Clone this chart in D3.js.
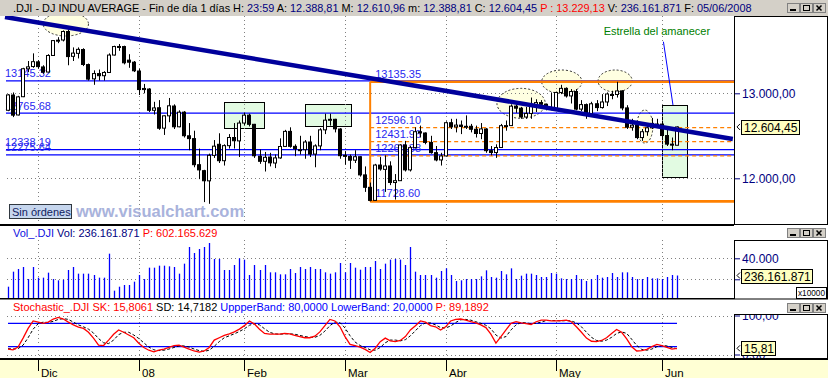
<!DOCTYPE html>
<html><head><meta charset="utf-8">
<script src="https://cdn.jsdelivr.net/npm/d3@7/dist/d3.min.js"></script>
<style>
html,body{margin:0;padding:0;background:#fff;}
svg{display:block;font-family:Arial,"Liberation Sans",sans-serif;}
</style></head><body>
<svg id="chart" width="828" height="378"></svg>
<script>
// ---------------- DATA ----------------
const sessionDays = [
 ["2007-11",[23,26,27,28,29,30]],
 ["2007-12",[3,4,5,6,7,10,11,12,13,14,17,18,19,20,21,24,26,27,28,31]],
 ["2008-01",[2,3,4,7,8,9,10,11,14,15,16,17,18,22,23,24,25,28,29,30,31]],
 ["2008-02",[1,4,5,6,7,8,11,12,13,14,15,19,20,21,22,25,26,27,28,29]],
 ["2008-03",[3,4,5,6,7,10,11,12,13,14,17,18,19,20,24,25,26,27,28,31]],
 ["2008-04",[1,2,3,4,7,8,9,10,11,14,15,16,17,18,21,22,23,24,25,28,29,30]],
 ["2008-05",[1,2,5,6,7,8,9,12,13,14,15,16,19,20,21,22,23,27,28,29,30]],
 ["2008-06",[2,3,4,5]]
];
const dates = sessionDays.flatMap(([m, ds]) => ds.map(d => m + "-" + String(d).padStart(2, "0")));

const opens = [
 12800,12980,12745,12960,13288,13315,
 13370,13310,13250,13445,13620,13627,13727,13435,13470,13515,13338,13170,13232,13207,13245,13450,13550,13550,13390,13366,
 13262,13044,13050,12800,12830,12590,12735,12850,12606,12778,12500,12467,12160,12090,11970,12270,12400,12207,12384,12480,12440,
 12650,12743,12635,12260,12200,12250,12180,12240,12375,12552,12376,12330,12337,12427,12285,12381,12570,12684,12694,12580,
 12270,12258,12213,12254,12040,11894,11740,12156,12105,12145,11950,11972,12392,12099,12361,12548,12533,12422,12302,12216,
 12263,12654,12605,12626,12610,12612,12577,12527,12580,12325,12303,12362,12619,12620,12849,12825,12721,12763,12849,12891,12871,12832,
 12820,13010,13058,12969,13021,12814,12867,12745,12877,12832,12898,12980,12986,13028,12828,12601,12625,12479,12548,12594,12630,
 12638,12503,12402,12388.81
];
const highs = [
 12990,13010,12970,13300,13380,13470,
 13390,13330,13460,13625,13660,13740,13750,13540,13540,13530,13350,13270,13280,13260,13470,13560,13580,13560,13460,13380,
 13290,13110,13060,12900,12920,12740,12945,12870,12800,12790,12650,12560,12350,12100,12290,12450,12530,12400,12520,12650,12680,
 12770,12760,12640,12340,12310,12300,12280,12470,12570,12600,12400,12500,12450,12500,12400,12590,12760,12760,12700,12590,
 12320,12280,12330,12260,12140,11950,12170,12250,12270,12200,12050,12400,12440,12380,12600,12620,12540,12500,12380,12300,
 12670,12700,12700,12680,12740,12640,12620,12650,12590,12380,12400,12640,12680,12870,12870,12840,12840,12950,12930,12920,12880,13010,
 13020,13100,13070,13050,13050,12920,12880,12900,12920,12990,13010,13030,13135.35,13035,12860,12700,12640,12580,12630,12710,12700,
 12650,12580,12480,12610.96
];
const lows = [
 12790,12720,12740,12955,13250,13300,
 13290,13230,13245,13440,13590,13610,13330,13380,13410,13320,13150,13100,13150,13150,13240,13445,13500,13340,13300,13250,
 12980,13000,12780,12750,12570,12510,12660,12580,12600,12480,12330,12130,11990,11720,11700,12240,12180,12150,12350,12350,12250,
 12620,12610,12240,12170,12080,12140,12120,12230,12370,12360,12260,12280,12230,12250,12130,12330,12520,12620,12540,12230,
 12160,12110,12180,12020,11840,11728.6,11735,12090,11840,11920,11750,11970,12080,12080,12350,12480,12400,12290,12200,12150,
 12260,12580,12540,12520,12580,12540,12480,12460,12300,12270,12240,12360,12560,12615,12770,12700,12700,12700,12780,12850,12800,12800,
 12800,12990,12950,12880,12800,12790,12700,12740,12790,12820,12850,12930,12950,12800,12580,12560,12460,12440,12500,12580,12610,
 12460,12380,12330,12388.81
];
const closes = [
 12981,12743,12958,13289,13311,13372,
 13314,13249,13445,13620,13625,13727,13432,13473,13517,13339,13167,13232,13207,13245,13450,13550,13551,13359,13366,13265,
 13044,13057,12800,12828,12589,12735,12853,12606,12778,12501,12467,12160,12099,11971,12270,12378,12207,12384,12480,12442,12650,
 12743,12635,12265,12200,12247,12182,12240,12374,12552,12376,12348,12337,12427,12285,12381,12570,12684,12694,12582,12266,
 12258,12213,12254,12040,11894,11740,12156,12110,12145,11951,11972,12392,12099,12361,12548,12533,12422,12302,12216,12263,
 12654,12605,12626,12610,12612,12577,12527,12581,12325,12303,12362,12619,12620,12849,12825,12721,12763,12849,12891,12871,12832,12820,
 13010,13058,12969,13021,12814,12867,12745,12877,12832,12898,12992,12986,13028,12828,12601,12625,12479,12548,12594,12646,12638,
 12503,12402,12391,12604.45
];
// volume in units of 10,000 shares (x10000)
const volumes = [
 12960,27270,29810,31720,20290,31720,
 21560,21560,26320,20290,19010,19650,28860,31720,25370,25370,25370,24100,21560,21560,44410,9170,12960,14570,14570,17750,
 24100,20290,31080,31080,32980,32980,32350,31720,25370,34890,50760,45050,48860,50760,54570,39330,39330,28860,28860,33620,39970,
 38700,24100,33620,28860,33620,26640,26640,24730,24730,29810,26000,31720,29810,31720,29810,29810,26640,25370,26640,35520,
 26640,35520,31080,29170,31720,31720,37430,29810,34890,38700,39330,38700,33620,50760,27270,24100,24100,24100,21560,27900,
 30450,24100,18380,19010,20290,20290,20290,22830,28540,22190,21560,27900,24730,30450,20290,23460,25370,25370,24100,22190,22190,26000,
 25370,20920,20290,20290,24100,20290,18380,20290,24100,21560,22190,26000,22190,26640,26640,22190,20290,20290,22190,20920,20920,
 20290,22190,24100,23616.1871
];
const stochK = [
 14,12,19,42,67,86,
 83,80,83,91,95,91,83,76,70,67,57,42,24,23,37,52,63,57,50,43,
 29,18,11,7,11,14,18,23,24,19,14,9,6,9,18,37,43,49,53,58,65,
 74,86,78,65,54,52,52,52,54,53,49,46,43,43,47,58,74,90,86,71,
 46,26,23,19,13,5,16,33,42,35,33,36,46,63,74,86,83,74,71,63,
 71,86,90,91,88,84,81,76,69,52,29,46,63,80,84,81,79,77,84,88,88,86,
 86,87,88,84,71,57,42,34,33,36,43,54,64,57,40,20,9,10,13,20,26,
 23,18,14,15.8061
];
const stochD = [
 15,14,15,24,43,65,
 79,83,82,85,90,92,90,83,76,71,65,55,41,30,28,37,51,57,57,50,
 41,30,19,12,10,11,14,18,22,22,19,14,10,8,11,21,33,43,48,53,59,
 66,75,79,76,66,57,53,52,53,53,52,49,46,44,44,49,60,74,83,82,
 68,48,32,23,18,12,11,18,30,37,37,35,38,48,61,74,81,81,76,69,
 68,73,82,89,90,88,84,80,75,66,50,42,46,63,76,82,81,79,80,83,87,87,
 87,86,87,86,81,71,57,44,36,34,37,44,54,58,54,39,23,13,11,14,20,
 23,22,18,14.7182
];
const monthTicks = [["Dic","2007-12-03"],["08","2008-01-02"],["Feb","2008-02-01"],["Mar","2008-03-03"],["Abr","2008-04-01"],["May","2008-05-01"],["Jun","2008-06-02"]];
const priceTicks = [12000, 13000];
const volumeTicks = [20000, 40000];
const stochTicks = [0, 100];
const stochBands = [80, 20];
const supportLevels = [13145.32, 12765.68, 12338.19, 12275.64];
const swingHigh = 13135.35, swingLow = 11728.60, swingDate = "2008-03-10";
const fibLevels = [12596.10, 12431.96, 12264.88];
// trendline: [bar index, price]
const trendLine = [[-0.6, 13898], [144.1, 12463]];
// highlight ellipses: [centre bar index, centre price, x radius (bars), y radius (points)]
const ellipses = [[11.5, 13815, 4.5, 141], [102, 12882, 4.8, 176], [110.1, 13136, 4.0, 138], [120.7, 13145, 3.4, 129], [126.6, 12609, 1.6, 194]];
// pattern boxes: [from bar, to bar, top price, bottom price]
const boxes = [[42.94, 50.89, 12898, 12592], [59.05, 68.19, 12874, 12615], [130.0, 135.0, 12862, 12015]];
const callout = {text: "Estrella del amanecer", at: [129.0, 13690], line: [[130.3, 13607], [132.2, 12862]]};
const header = {symbol: ".DJI - DJ INDU AVERAGE - Fin de día 1 días", time: "23:59", prev: 13229.13, volume: 236161871, date: "05/06/2008"};
const volumeTitle = {name: "Vol_.DJI", value: 236161871, p: 602165629};
const stochTitle = {name: "Stochastic_.DJI", upper: 80, lower: 20, p: 89.1892};

// ---------------- LAYOUT ----------------
const svg = d3.select("#chart");
const FONT = 'Arial,"Liberation Sans",sans-serif';
const X1 = 734;
const mainTop = 16, mainBot = 224, volTop = 240, volBot = 299, stTop = 314, stBot = 359;
const N = dates.length, last = N - 1;

const x = d3.scaleLinear().domain([0, last]).range([8, 677]);
const yP = d3.scaleLinear().domain([12000, 13000]).range([178.3, 93.3]);
const yV = d3.scaleLinear().domain([0, 40000]).range([300.3, 258.3]);
const yS = d3.scaleLinear().domain([0, 100]).range([354.5, 315.5]);

const loc = d3.formatLocale({decimal: ",", thousands: ".", grouping: [3], currency: ["", ""]});
const f2 = loc.format(",.2f"), f0 = loc.format(",.0f"), f4 = loc.format(".4f");
const px = i => Math.round(x(i)) + 0.5;

svg.append("rect").attr("width", 828).attr("height", 378).attr("fill", "#fff");
svg.append("rect").attr("width", 828).attr("height", 16).attr("fill", "#d4d0c8");
svg.append("rect").attr("y", 360).attr("width", 828).attr("height", 18).attr("fill", "#ffffd4");

const defs = svg.append("defs");
function clip(id, cx, cy, w, h) { defs.append("clipPath").attr("id", id).append("rect").attr("x", cx).attr("y", cy).attr("width", w).attr("height", h); }
clip("cMain", 0, mainTop, X1, mainBot - mainTop);
clip("cVol", 0, volTop, X1, volBot - volTop);
clip("cSt", 0, stTop, X1, stBot - stTop);
clip("cAxM", 735, 17, 92, 207);
clip("cAxV", 735, 241, 92, 57);
clip("cAxS", 735, 315, 92, 43);

const monthIdx = monthTicks.map(([l, d]) => [l, dates.indexOf(d)]);
const dot = "#808080";

// ---------------- MAIN PANEL ----------------
const gM = svg.append("g").attr("clip-path", "url(#cMain)");
gM.selectAll(".ell").data(ellipses).join("ellipse").attr("class", "ell")
  .attr("cx", d => x(d[0])).attr("cy", d => yP(d[1]))
  .attr("rx", d => x(d[0] + d[2]) - x(d[0])).attr("ry", d => yP(d[1] - d[3]) - yP(d[1]))
  .attr("fill", "#ffffe1").attr("stroke", "#000").attr("stroke-width", 0.8).attr("stroke-dasharray", "2,2");
gM.selectAll(".box").data(boxes).join("rect").attr("class", "box")
  .attr("x", d => Math.round(x(d[0])) + 0.5).attr("y", d => Math.round(yP(d[2])) + 0.5)
  .attr("width", d => Math.round(x(d[1]) - x(d[0]))).attr("height", d => Math.round(yP(d[3]) - yP(d[2])))
  .attr("fill", "#e2fbe2").attr("stroke", "#000");
gM.selectAll(".vg").data(monthIdx).join("line").attr("class", "vg")
  .attr("x1", d => px(d[1])).attr("x2", d => px(d[1])).attr("y1", mainTop).attr("y2", mainBot)
  .attr("stroke", dot).attr("stroke-dasharray", "1,3");
gM.selectAll(".hg").data(priceTicks).join("line").attr("class", "hg")
  .attr("x1", 7).attr("x2", X1).attr("y1", d => Math.round(yP(d)) + 0.5).attr("y2", d => Math.round(yP(d)) + 0.5)
  .attr("stroke", dot).attr("stroke-dasharray", "1,3");
// support / resistance lines
gM.selectAll(".sup").data(supportLevels).join("line").attr("class", "sup")
  .attr("x1", x(-0.4)).attr("x2", X1).attr("y1", d => yP(d)).attr("y2", d => yP(d))
  .attr("stroke", "#0000ff").attr("stroke-width", 1.3);
gM.selectAll(".supl").data(supportLevels).join("text").attr("class", "supl")
  .attr("x", 5).attr("y", d => yP(d) - 3.5).text(d => d.toFixed(2))
  .attr("fill", "#2828f0").attr("font-size", 11);
// fibonacci block
const si = dates.indexOf(swingDate);
gM.selectAll(".fib").data(fibLevels).join("line").attr("class", "fib")
  .attr("x1", x(si)).attr("x2", X1).attr("y1", d => yP(d)).attr("y2", d => yP(d))
  .attr("stroke", "#ff8000").attr("stroke-width", 1.3).attr("stroke-dasharray", "4,3");
gM.selectAll(".sw").data([swingHigh, swingLow]).join("line").attr("class", "sw")
  .attr("x1", x(si)).attr("x2", X1).attr("y1", d => yP(d)).attr("y2", d => yP(d))
  .attr("stroke", "#ff8000").attr("stroke-width", 2.6);
gM.append("line").attr("x1", x(si)).attr("x2", x(si)).attr("y1", yP(swingHigh)).attr("y2", yP(swingLow))
  .attr("stroke", "#ff8000").attr("stroke-width", 2);
gM.selectAll(".fibl").data([swingHigh, ...fibLevels, swingLow]).join("text").attr("class", "fibl")
  .attr("x", x(si) + 5).attr("y", d => yP(d) - 4).text(d => d.toFixed(2))
  .attr("fill", "#2828f0").attr("font-size", 11);
// candles
const candles = dates.map((d, i) => ({i, o: opens[i], h: highs[i], l: lows[i], c: closes[i]}));
gM.selectAll(".wick").data(candles).join("line").attr("class", "wick")
  .attr("x1", d => px(d.i)).attr("x2", d => px(d.i)).attr("y1", d => yP(d.h)).attr("y2", d => yP(d.l))
  .attr("stroke", "#000");
gM.selectAll(".body").data(candles).join("rect").attr("class", "body")
  .attr("x", d => Math.round(x(d.i)) - 1.5).attr("width", 3)
  .attr("y", d => yP(Math.max(d.o, d.c))).attr("height", d => Math.max(1, Math.abs(yP(d.o) - yP(d.c))))
  .attr("fill", d => d.c >= d.o ? "#fff" : "#000").attr("stroke", "#000");
// trendline
gM.append("line").attr("x1", x(trendLine[0][0])).attr("y1", yP(trendLine[0][1]))
  .attr("x2", x(trendLine[1][0])).attr("y2", yP(trendLine[1][1]))
  .attr("stroke", "#00009c").attr("stroke-width", 4.5);
// callout
gM.append("line").attr("x1", x(callout.line[0][0])).attr("y1", yP(callout.line[0][1]))
  .attr("x2", x(callout.line[1][0])).attr("y2", yP(callout.line[1][1])).attr("stroke", "#0000ff");
gM.append("text").attr("x", x(callout.at[0])).attr("y", yP(callout.at[1])).attr("text-anchor", "middle")
  .attr("fill", "#008000").attr("font-size", 11).text(callout.text);
// watermark + orders box
svg.append("text").attr("x", 76).attr("y", 217).attr("font-size", 16.5).attr("font-weight", "bold")
  .attr("fill", "#a9b3dc").text("www.visualchart.com");
svg.append("rect").attr("x", 9.5).attr("y", 204.5).attr("width", 62).attr("height", 14)
  .attr("fill", "#c6d6ee").attr("stroke", "#303840");
svg.append("text").attr("x", 12).attr("y", 215.5).attr("font-size", 11).attr("fill", "#102060").text("Sin órdenes");

// ---------------- VOLUME PANEL ----------------
const gV = svg.append("g").attr("clip-path", "url(#cVol)");
gV.selectAll(".vg").data(monthIdx).join("line").attr("class", "vg")
  .attr("x1", d => px(d[1])).attr("x2", d => px(d[1])).attr("y1", volTop).attr("y2", volBot)
  .attr("stroke", dot).attr("stroke-dasharray", "1,3");
gV.selectAll(".hg").data(volumeTicks).join("line").attr("class", "hg")
  .attr("x1", 7).attr("x2", X1).attr("y1", d => Math.round(yV(d)) + 0.5).attr("y2", d => Math.round(yV(d)) + 0.5)
  .attr("stroke", dot).attr("stroke-dasharray", "1,3");
gV.selectAll(".vb").data(volumes).join("line").attr("class", "vb")
  .attr("x1", (d, i) => px(i)).attr("x2", (d, i) => px(i)).attr("y1", yV(0)).attr("y2", d => yV(d))
  .attr("stroke", "#0000ff").attr("stroke-width", 1.3);

// ---------------- STOCHASTIC PANEL ----------------
const gS = svg.append("g").attr("clip-path", "url(#cSt)");
gS.selectAll(".vg").data(monthIdx).join("line").attr("class", "vg")
  .attr("x1", d => px(d[1])).attr("x2", d => px(d[1])).attr("y1", stTop).attr("y2", stBot)
  .attr("stroke", dot).attr("stroke-dasharray", "1,3");
gS.selectAll(".hg").data(stochTicks).join("line").attr("class", "hg")
  .attr("x1", 7).attr("x2", X1).attr("y1", d => Math.round(yS(d)) + 0.5).attr("y2", d => Math.round(yS(d)) + 0.5)
  .attr("stroke", dot).attr("stroke-dasharray", "1,3");
gS.selectAll(".band").data(stochBands).join("line").attr("class", "band")
  .attr("x1", x(0)).attr("x2", x(last)).attr("y1", d => yS(d)).attr("y2", d => yS(d))
  .attr("stroke", "#0000ff").attr("stroke-width", 1.3);
const lineS = d3.line().x((d, i) => x(i)).y(d => yS(d));
gS.append("path").attr("d", lineS(stochD)).attr("fill", "none").attr("stroke", "#000").attr("stroke-dasharray", "3,2");
gS.append("path").attr("d", lineS(stochK)).attr("fill", "none").attr("stroke", "#ff0000").attr("stroke-width", 1.3);

// ---------------- FRAMES ----------------
svg.append("line").attr("x1", 0).attr("x2", X1).attr("y1", 225).attr("y2", 225).attr("stroke", "#000").attr("stroke-width", 2);
svg.append("line").attr("x1", 0).attr("x2", X1).attr("y1", 298.8).attr("y2", 298.8).attr("stroke", "#000").attr("stroke-width", 1.5);
svg.append("line").attr("x1", 0).attr("x2", 828).attr("y1", 359).attr("y2", 359).attr("stroke", "#000").attr("stroke-width", 2);
[[16.5, 208], [240.5, 58.5], [314.5, 44.5]].forEach(([ty, h]) =>
  svg.append("rect").attr("x", 734.5).attr("y", ty).attr("width", 93).attr("height", h).attr("fill", "none").attr("stroke", "#000"));

// ---------------- RIGHT AXES ----------------
function rightAxis(scale, ticks, fmt, clipId) {
  const g = svg.append("g").attr("clip-path", "url(#" + clipId + ")").append("g").attr("transform", "translate(734,0)")
    .call(d3.axisRight(scale).tickValues(ticks).tickFormat(fmt).tickSize(6).tickPadding(2));
  g.select(".domain").remove();
  g.attr("font-family", FONT).attr("font-size", 12);
  g.selectAll("line").attr("stroke", "#000080");
  g.selectAll("text").attr("fill", "#000080");
}
rightAxis(yP, priceTicks, f2, "cAxM");
rightAxis(yV, volumeTicks, f0, "cAxV");
rightAxis(yS, stochTicks, f2, "cAxS");

function tag(yc, w, label) {
  svg.append("path").attr("d", `M740,${yc - 3}L737,${yc}L740,${yc + 3}`).attr("fill", "none").attr("stroke", "#000");
  svg.append("rect").attr("x", 741.5).attr("y", Math.round(yc) - 6.5).attr("width", w).attr("height", 14)
    .attr("fill", "#ffffc0").attr("stroke", "#000");
  svg.append("text").attr("x", 744).attr("y", Math.round(yc) + 4.5).attr("font-size", 12).attr("fill", "#000").text(label);
}
tag(yP(closes[last]), 58, f2(closes[last]));
tag(yV(volumes[last]), 71, f0(volumeTitle.value));
tag(yS(stochK[last]), 34, f2(stochK[last]));
svg.append("rect").attr("x", 796.5).attr("y", 287.5).attr("width", 30).attr("height", 11).attr("fill", "#fff").attr("stroke", "#000");
svg.append("text").attr("x", 798).attr("y", 296.3).attr("font-size", 9).attr("fill", "#000")
  .attr("textLength", 27).attr("lengthAdjust", "spacingAndGlyphs").text("x10000");

// ---------------- DATE AXIS ----------------
const gD = svg.append("g");
gD.selectAll("line").data(monthIdx).join("line")
  .attr("x1", d => px(d[1])).attr("x2", d => px(d[1])).attr("y1", 360).attr("y2", 371).attr("stroke", "#000");
gD.selectAll("text").data(monthIdx).join("text")
  .attr("x", d => px(d[1]) + 2.5).attr("y", 376.5).attr("font-size", 11.5).attr("fill", "#000").text(d => d[0]);

// ---------------- TITLES ----------------
function spans(tx, ty, parts, fs) {
  const t = svg.append("text").attr("x", tx).attr("y", ty).attr("font-size", fs || 11).attr("xml:space", "preserve");
  parts.forEach(([s, c]) => t.append("tspan").attr("fill", c).text(s));
}
const NAVY = "#000080";
spans(13, 12, [
  [header.symbol + " H: ", "#000"], [header.time, NAVY],
  [" A: ", "#000"], [f2(opens[last]), NAVY],
  [" M: ", "#000"], [f2(highs[last]), NAVY],
  [" m: ", "#000"], [f2(lows[last]), NAVY],
  [" C: ", "#000"], [f2(closes[last]), NAVY],
  [" P : " + f2(header.prev), "#ff0000"],
  [" V: ", "#000"], [f0(header.volume), NAVY],
  [" F: ", "#000"], [header.date, NAVY]
], 10.9);
spans(13, 236.5, [[volumeTitle.name + " ", "#1010e0"], ["Vol: " + f0(volumeTitle.value), NAVY], [" P: " + f0(volumeTitle.p), "#ff0000"]]);
spans(13, 311, [
  [stochTitle.name + " SK: " + f4(stochK[last]), "#ff0000"],
  [" SD: " + f4(stochD[last]), "#000"],
  [" UppperBand: " + f4(stochTitle.upper), "#0000ff"],
  [" LowerBand: " + f4(stochTitle.lower), "#0000ff"],
  [" P: " + f4(stochTitle.p), "#ff0000"]
]);

// window buttons
function buttons(by) {
  [[787, "min"], [800, "max"], [813, "close"]].forEach(([bx, k]) => {
    svg.append("rect").attr("x", bx + 0.5).attr("y", by + 0.5).attr("width", 12).attr("height", 9)
      .attr("fill", "#d4d0c8").attr("stroke", "#808080");
    if (k === "min") svg.append("rect").attr("x", bx + 3).attr("y", by + 6).attr("width", 6).attr("height", 2).attr("fill", "#000");
    if (k === "max") svg.append("rect").attr("x", bx + 3.5).attr("y", by + 2.5).attr("width", 6).attr("height", 5).attr("fill", "none").attr("stroke", "#000").attr("stroke-width", 1);
    if (k === "close") svg.append("path").attr("d", `M${bx + 3.5},${by + 2.5}L${bx + 8.5},${by + 7.5}M${bx + 8.5},${by + 2.5}L${bx + 3.5},${by + 7.5}`).attr("stroke", "#000").attr("stroke-width", 1.5);
  });
}
buttons(3);
buttons(228);
buttons(303);
</script>
</body></html>
